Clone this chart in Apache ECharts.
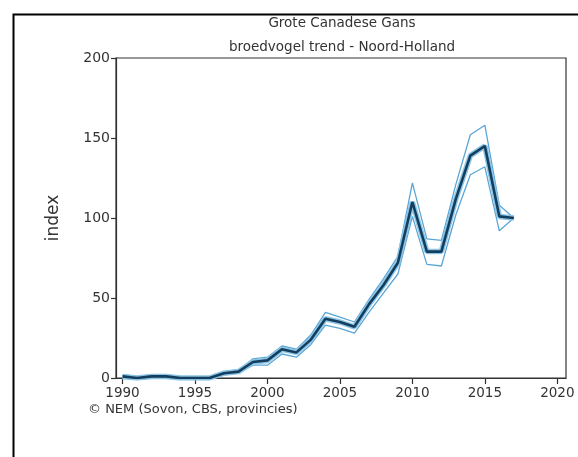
<!DOCTYPE html>
<html>
<head>
<meta charset="utf-8">
<script src="https://cdn.jsdelivr.net/npm/echarts@6/dist/echarts.min.js"></script>
<style>
  html, body { margin: 0; padding: 0; background: #fff; }
  #main { width: 578px; height: 457px; }
</style>
</head>
<body>
<div id="main"></div>
<script>
// jaren en index (1990 ... 2017)
var years = [1990, 1991, 1992, 1993, 1994, 1995, 1996, 1997, 1998, 1999,
  2000, 2001, 2002, 2003, 2004, 2005, 2006, 2007, 2008, 2009,
  2010, 2011, 2012, 2013, 2014, 2015, 2016, 2017];
var trend = [1, 0, 1, 1, 0, 0, 0, 3, 4, 10,
  11, 18, 16, 24, 37, 35, 32, 46, 58, 72,
  110, 79, 79, 112, 139, 145, 101, 100];
var upper = [2, 1, 2, 2, 1, 0, 1, 4, 5, 12,
  13, 20, 18, 27, 41, 38, 35, 49, 62, 76,
  122, 87, 86, 121, 152, 158, 108, 100];
var lower = [0, 0, 0, 0, 0, 0, 0, 2, 3, 8,
  8, 15, 13, 21, 33, 31, 28, 41, 53, 65,
  101, 71, 70, 102, 127, 132, 92, 100];
var xTicks = [1990, 1995, 2000, 2005, 2010, 2015, 2020];
var yTicks = [0, 50, 100, 150, 200];

function pairs(vals) {
  return years.map(function (y, i) { return [y, vals[i]]; });
}

var font = 'DejaVu Sans';
var chart = echarts.init(document.getElementById('main'));

chart.setOption({
  animation: false,
  textStyle: { fontFamily: font },
  title: {
    text: 'Grote Canadese Gans\nbroedvogel trend - Noord-Holland',
    left: 337,
    top: 6,
    textAlign: 'center',
    textStyle: { fontFamily: font, fontSize: 13.5, fontWeight: 'normal', color: '#333', lineHeight: 24 }
  },
  graphic: [
    {
      type: 'rect', left: 11, top: 12, z: -1,
      shape: { width: 620, height: 500 },
      style: { fill: 'none', stroke: '#000', lineWidth: 2 }
    },
    {
      type: 'text', left: 88, top: 403,
      style: { text: '© NEM (Sovon, CBS, provincies)', fontFamily: font, fontSize: 13, fill: '#333' }
    }
  ],
  grid: {
    left: 116, top: 58, width: 450, height: 320,
    show: true, borderColor: '#333', borderWidth: 1.2, backgroundColor: '#fff'
  },
  xAxis: {
    type: 'value',
    min: 1989.55,
    max: 2020.6,
    splitLine: { show: false },
    axisLine: { lineStyle: { color: '#333', width: 1.2 } },
    axisTick: { customValues: xTicks, length: 6, lineStyle: { color: '#333', width: 1.2 } },
    axisLabel: {
      customValues: xTicks, fontSize: 13.5, color: '#333', margin: 8,
      formatter: function (v) { return String(v); }
    }
  },
  yAxis: {
    type: 'value',
    min: 0,
    max: 200,
    interval: 50,
    name: 'index',
    nameLocation: 'middle',
    nameGap: 54,
    nameTextStyle: { fontSize: 17, color: '#333' },
    splitLine: { show: false },
    axisLine: { show: true, lineStyle: { color: '#333', width: 1.2 } },
    axisTick: { show: true, length: 5, lineStyle: { color: '#333', width: 1.2 } },
    axisLabel: { customValues: yTicks, fontSize: 14, color: '#333', margin: 6 }
  },
  series: [
    {
      type: 'line', data: pairs(upper), symbol: 'none',
      lineStyle: { color: '#5aa6d6', width: 1.3 }
    },
    {
      type: 'line', data: pairs(lower), symbol: 'none',
      lineStyle: { color: '#5aa6d6', width: 1.3 }
    },
    {
      type: 'line', data: pairs(trend), symbol: 'none',
      lineStyle: { color: '#8cc4e6', width: 5.5 }
    },
    {
      type: 'line', data: pairs(trend), symbol: 'none',
      lineStyle: { color: '#143e5e', width: 2.6 }
    }
  ]
});
</script>
</body>
</html>
